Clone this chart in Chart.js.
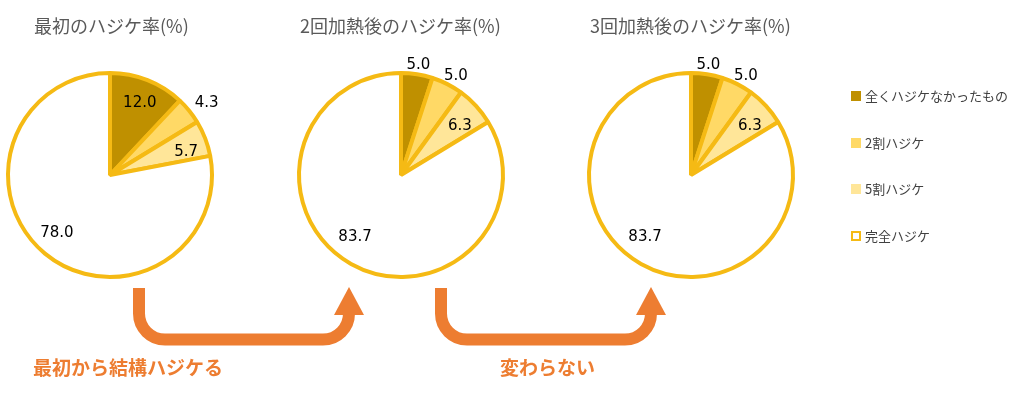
<!DOCTYPE html>
<html>
<head>
<meta charset="utf-8">
<script src="https://cdn.jsdelivr.net/npm/chart.js@4"></script>
<style>
  body { margin: 0; background: #fff; width: 1012px; height: 406px; position: relative; overflow: hidden;
         font-family: "Noto Sans CJK JP", "Noto Sans", sans-serif; }
  .title { position: absolute; top: 12px; font-size: 18px; color: #595959; white-space: nowrap; }
  .pie { position: absolute; width: 240px; height: 240px; }
  #legend { position: absolute; left: 851px; top: 86px; }
  .item { height: 46.5px; font-size: 13px; color: #404040; display: flex; align-items: flex-start; white-space: nowrap; }
  .sw { width: 10px; height: 10px; margin: 5px 4px 0 0; box-sizing: border-box; flex: none; }
  .note { position: absolute; top: 353px; font-size: 19px; font-weight: bold; color: #ED7D31; white-space: nowrap; }
  #arrows { position: absolute; left: 0; top: 0; }
</style>
</head>
<body>
<canvas id="arrows" width="1012" height="406"></canvas>
<div class="title" style="left:34px">最初のハジケ率(%)</div>
<div class="title" style="left:300px">2回加熱後のハジケ率(%)</div>
<div class="title" style="left:590px">3回加熱後のハジケ率(%)</div>
<div class="pie" style="left:-10px;top:55px"><canvas id="pie1"></canvas></div>
<div class="pie" style="left:281px;top:55px"><canvas id="pie2"></canvas></div>
<div class="pie" style="left:571px;top:55px"><canvas id="pie3"></canvas></div>
<div id="legend"></div>
<div class="note" style="left:33px">最初から結構ハジケる</div>
<div class="note" style="left:500px">変わらない</div>
<script>
// categories and values
const categories = ["全くハジケなかったもの", "2割ハジケ", "5割ハジケ", "完全ハジケ"];
const firstRate = [12.0, 4.3, 5.7, 78.0];
const secondRate = [5.0, 5.0, 6.3, 83.7];
const thirdRate = [5.0, 5.0, 6.3, 83.7];

const fills = ["#BF9000", "#FFD966", "#FFE699", "#FFFFFF"];
const edge = "#F5BA14";

// value label placement: fraction of radius, and angle nudge in degrees
const labelRadius1 = [0.76, 1.18, 0.78, 0.77];
const labelTurn1 = [1, 2.5, 4, 3];
const labelRadius2 = [1.09, 1.11, 0.75, 0.76];
const labelTurn2 = [0, 2, 3, 7];

const valueLabels = {
    id: 'valueLabels',
    afterDraw(chart, args, opts) {
        const ctx = chart.ctx;
        const meta = chart.getDatasetMeta(0);
        ctx.save();
        ctx.font = '15px "DejaVu Sans", sans-serif';
        ctx.fillStyle = '#000';
        ctx.textAlign = 'center';
        ctx.textBaseline = 'middle';
        meta.data.forEach((arc, i) => {
            const mid = (arc.startAngle + arc.endAngle) / 2 + opts.turn[i] * Math.PI / 180;
            const r = arc.outerRadius * opts.radius[i];
            const x = arc.x + Math.cos(mid) * r;
            const y = arc.y + Math.sin(mid) * r;
            ctx.fillText(chart.data.datasets[0].data[i].toFixed(1), x, y);
        });
        ctx.restore();
    }
};

function makePie(id, values, radius, turn) {
    new Chart(document.getElementById(id), {
        type: 'pie',
        data: {
            labels: categories,
            datasets: [{
                data: values,
                backgroundColor: fills,
                borderColor: edge,
                borderWidth: 4
            }]
        },
        options: {
            responsive: true,
            maintainAspectRatio: false,
            animation: false,
            layout: { padding: 16 },
            plugins: {
                legend: { display: false },
                tooltip: { enabled: false },
                valueLabels: { radius: radius, turn: turn }
            }
        },
        plugins: [valueLabels]
    });
}

makePie('pie1', firstRate, labelRadius1, labelTurn1);
makePie('pie2', secondRate, labelRadius2, labelTurn2);
makePie('pie3', thirdRate, labelRadius2, labelTurn2);

// legend
const legend = document.getElementById('legend');
categories.forEach((name, i) => {
    const item = document.createElement('div');
    item.className = 'item';
    const sw = document.createElement('span');
    sw.className = 'sw';
    if (fills[i] === '#FFFFFF') {
        sw.style.border = '2px solid ' + edge;
    } else {
        sw.style.background = fills[i];
    }
    item.appendChild(sw);
    item.appendChild(document.createTextNode(name));
    legend.appendChild(item);
});

// orange bent arrows
function drawArrow(ctx, x0, x1) {
    const top = 288, bottom = 339.5, rad = 26;
    ctx.beginPath();
    ctx.moveTo(x0, top);
    ctx.lineTo(x0, bottom - rad);
    ctx.arcTo(x0, bottom, x0 + rad, bottom, rad);
    ctx.lineTo(x1 - rad, bottom);
    ctx.arcTo(x1, bottom, x1, bottom - rad, rad);
    ctx.lineTo(x1, 312);
    ctx.stroke();
    ctx.beginPath();
    ctx.moveTo(x1, 287);
    ctx.lineTo(x1 + 15, 315);
    ctx.lineTo(x1 - 15, 315);
    ctx.closePath();
    ctx.fill();
}
const actx = document.getElementById('arrows').getContext('2d');
actx.strokeStyle = '#ED7D31';
actx.fillStyle = '#ED7D31';
actx.lineWidth = 12;
drawArrow(actx, 139, 349);
drawArrow(actx, 441, 651);
</script>
</body>
</html>
